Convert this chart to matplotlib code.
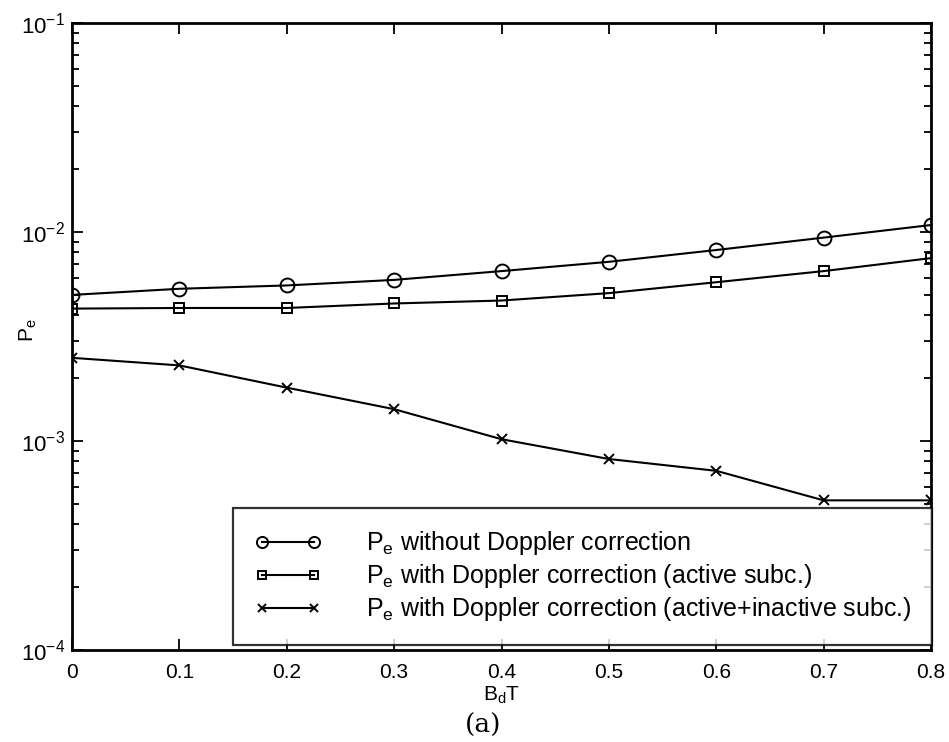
import matplotlib
matplotlib.use("Agg")
import matplotlib.pyplot as plt
from matplotlib.ticker import LogLocator, LogFormatterMathtext, NullFormatter, FixedLocator

plt.rcParams['font.family'] = ['Liberation Sans', 'DejaVu Sans']
plt.rcParams['mathtext.fontset'] = 'custom'
plt.rcParams['mathtext.rm'] = 'Liberation Sans'
plt.rcParams['mathtext.it'] = 'Liberation Sans'
plt.rcParams['mathtext.bf'] = 'Liberation Sans:bold'

# ---- data ----
bdt = [0.0, 0.1, 0.2, 0.3, 0.4, 0.5, 0.6, 0.7, 0.8]
pe_no_corr = [5.0e-3, 5.35e-3, 5.55e-3, 5.9e-3, 6.5e-3, 7.2e-3, 8.2e-3, 9.4e-3, 1.08e-2]
pe_corr_active = [4.3e-3, 4.33e-3, 4.33e-3, 4.55e-3, 4.7e-3, 5.1e-3, 5.75e-3, 6.5e-3, 7.5e-3]
pe_corr_all = [2.5e-3, 2.3e-3, 1.8e-3, 1.42e-3, 1.02e-3, 8.2e-4, 7.2e-4, 5.2e-4, 5.2e-4]
labels = [r'$\mathregular{P_e}$ without Doppler correction',
          r'$\mathregular{P_e}$ with Doppler correction (active subc.)',
          r'$\mathregular{P_e}$ with Doppler correction (active+inactive subc.)']
xticks = [0, 0.1, 0.2, 0.3, 0.4, 0.5, 0.6, 0.7, 0.8]
xticklabels = ['0', '0.1', '0.2', '0.3', '0.4', '0.5', '0.6', '0.7', '0.8']

fig = plt.figure(figsize=(9.49, 7.42), dpi=100)
ax = fig.add_axes([72/949, 1-650/742, (931-72)/949, (650-23)/742])

kw = dict(color='black', lw=1.5, markerfacecolor='none', markeredgecolor='black', markeredgewidth=1.4)
ax.plot(bdt, pe_no_corr, marker='o', markersize=10, label=labels[0], **kw)
ax.plot(bdt, pe_corr_active, marker='s', markersize=7.5, label=labels[1], **kw)
ax.plot(bdt, pe_corr_all, marker='x', markersize=7, label=labels[2], **kw)

ax.set_yscale('log')
ax.set_ylim(1e-4, 1e-1)
ax.set_xlim(0, 0.8)
ax.xaxis.set_major_locator(FixedLocator(xticks))
ax.set_xticklabels(xticklabels)
ax.yaxis.set_major_locator(LogLocator(base=10, numticks=10))
ax.yaxis.set_major_formatter(LogFormatterMathtext())
ax.yaxis.set_minor_locator(LogLocator(base=10, subs=range(2, 10), numticks=20))
ax.yaxis.set_minor_formatter(NullFormatter())

ax.tick_params(which='both', direction='in', top=True, right=True, width=1.3)
ax.tick_params(axis='x', labelsize=15, pad=9)
ax.tick_params(axis='y', labelsize=16, pad=5)
ax.tick_params(which='major', length=8)
ax.tick_params(which='minor', length=5)
for s in ax.spines.values():
    s.set_linewidth(2.0)

ax.set_xlabel(r'$\mathregular{B_dT}$', fontsize=15, labelpad=2)
ax.set_ylabel(r'$\mathregular{P_e}$', fontsize=15)
ax.yaxis.set_label_coords(-0.038, 0.51)

leg = ax.legend(loc='upper left', bbox_to_anchor=(233/949, 1-508/742), bbox_transform=fig.transFigure,
                numpoints=2, handlelength=2.7, markerscale=0.8,
                fontsize=18, frameon=True, fancybox=False, edgecolor='black',
                borderpad=0.85, labelspacing=0.2, handletextpad=1.75, borderaxespad=0.0)
leg.get_frame().set_linewidth(1.6)

fig.text(483/949, 1-725/742, '(a)', fontsize=19, family='DejaVu Serif', ha='center', va='center')

fig.savefig('out.png', dpi=100)
